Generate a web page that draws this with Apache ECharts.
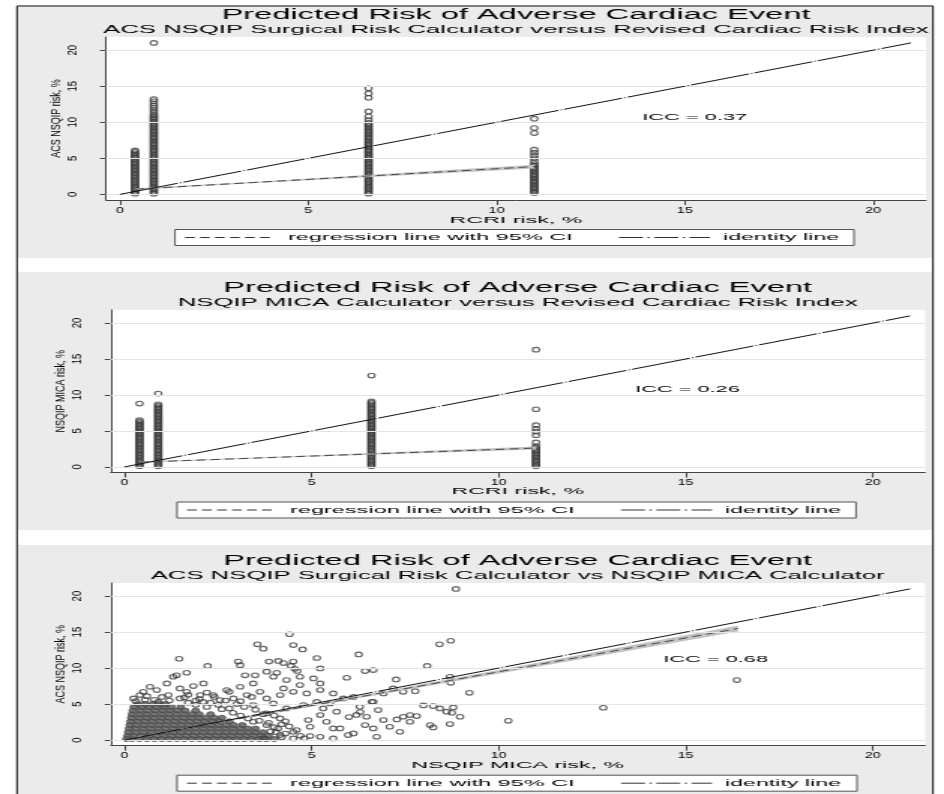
<!DOCTYPE html>
<html>
<head>
<meta charset="utf-8">
<script src="https://cdn.jsdelivr.net/npm/echarts@6/dist/echarts.min.js"></script>
<style>
html, body { margin: 0; padding: 0; background: #fff; overflow: hidden; }
/* the source figure is stretched sideways, so the chart is drawn narrow and widened */
#main { width: 629px; height: 794px; transform: scaleX(1.50079); transform-origin: 0 0; }
</style>
</head>
<body>
<div id="main"></div>
<script>
// ---- data ----
var titles = ['Predicted Risk of Adverse Cardiac Event', 'Predicted Risk of Adverse Cardiac Event', 'Predicted Risk of Adverse Cardiac Event'];
var subtitles = ['ACS NSQIP Surgical Risk Calculator versus Revised Cardiac Risk Index',
                 'NSQIP MICA Calculator versus Revised Cardiac Risk Index',
                 'ACS NSQIP Surgical Risk Calculator vs NSQIP MICA Calculator'];
var xNames = ['RCRI risk, %', 'RCRI risk, %', 'NSQIP MICA risk, %'];
var yNames = ['ACS NSQIP risk, %', 'NSQIP MICA risk, %', 'ACS NSQIP risk, %'];
var legendNames = ['regression line with 95% CI', 'identity line'];
var tickValues = [0, 5, 10, 15, 20];
var iccLabels = ['ICC = 0.37', 'ICC = 0.26', 'ICC = 0.68'];
var iccAt = [[13.87, 10.73], [13.65, 10.8], [14.4, 11.2]];

// RCRI classes (x) and the predicted risks seen in each column
var rcriClass = [0.4, 0.9, 6.6, 11];
var acsAt04 = [0.1,0.3,0.5,0.7,0.9,1.1,1.3,1.5,1.7,1.9,2.1,2.3,2.5,2.7,2.9,3.1,3.3,3.5,3.7,3.9,4.1,4.3,4.5,4.7,4.9,5.1,5.3,5.5,5.7,5.9,6.1];
var acsAt09 = [0.1,0.3,0.5,0.7,0.9,1.1,1.3,1.5,1.7,1.9,2.1,2.3,2.5,2.7,2.9,3.1,3.3,3.5,3.7,3.9,4.1,4.3,4.5,4.7,4.9,5.1,5.3,5.5,5.7,5.9,
               6.1,6.3,6.5,6.7,6.9,7.1,7.3,7.5,7.7,7.9,8.1,8.3,8.5,8.7,8.9,9.1,9.3,9.5,9.7,9.9,10.1,10.3,10.5,10.7,10.9,11.1,
               11.4,11.7,12.0,12.3,12.6,12.9,13.2,21.0];
var acsAt66 = [0.1,0.3,0.5,0.7,0.9,1.1,1.3,1.5,1.7,1.9,2.1,2.3,2.5,2.7,2.9,3.1,3.3,3.5,3.7,3.9,4.1,4.3,4.5,4.7,4.9,5.1,5.3,5.5,5.7,5.9,
               6.1,6.3,6.5,6.7,6.9,7.1,7.3,7.5,7.7,7.9,8.1,8.3,8.5,8.7,8.9,9.1,9.3,9.5,9.7,9.9,10.3,10.8,11.5,13.4,14.0,14.7];
var acsAt11 = [0.2,0.4,0.6,0.8,1.0,1.2,1.4,1.6,1.8,2.0,2.2,2.4,2.6,2.8,3.0,3.2,3.4,3.6,3.8,4.0,4.2,4.6,5.0,5.4,5.8,6.2,8.5,9.2,10.5];
var micaAt04 = [0.1,0.3,0.5,0.7,0.9,1.1,1.3,1.5,1.7,1.9,2.1,2.3,2.5,2.7,2.9,3.1,3.3,3.5,3.7,3.9,4.1,4.3,4.5,4.7,4.9,5.1,5.3,5.5,5.7,5.9,6.1,6.3,6.5,8.8];
var micaAt09 = [0.1,0.3,0.5,0.7,0.9,1.1,1.3,1.5,1.7,1.9,2.1,2.3,2.5,2.7,2.9,3.1,3.3,3.5,3.7,3.9,4.1,4.3,4.5,4.7,4.9,5.1,5.3,5.5,5.7,5.9,
                6.1,6.3,6.5,6.7,6.9,7.1,7.3,7.5,7.7,7.9,8.1,8.3,8.5,8.7,10.2];
var micaAt66 = [0.1,0.3,0.5,0.7,0.9,1.1,1.3,1.5,1.7,1.9,2.1,2.3,2.5,2.7,2.9,3.1,3.3,3.5,3.7,3.9,4.1,4.3,4.5,4.7,4.9,5.1,5.3,5.5,5.7,5.9,
                6.1,6.3,6.5,6.7,6.9,7.1,7.3,7.5,7.7,7.9,8.1,8.3,8.5,8.7,8.9,9.1,12.7];
var micaAt11 = [0.1,0.3,0.5,0.7,0.9,1.1,1.3,1.5,1.7,1.9,2.1,2.3,2.5,2.7,2.9,3.4,4.4,4.9,5.3,5.8,8.0,16.3];

// panel 3: NSQIP MICA (x) vs ACS NSQIP (y), the solid core near the origin, row by row
var coreRowY = [0.15, 0.6, 1.1, 1.6, 2.1, 2.6, 3.1, 3.6, 4.1, 4.6, 5.0];
var coreRowX = [
  [0.05,0.2,0.4,0.6,0.8,1.0,1.2,1.4,1.6,1.8,2.0,2.2,2.4,2.6,2.8,3.0,3.2,3.4,3.6,3.8,4.0],
  [0.08,0.25,0.45,0.65,0.85,1.05,1.25,1.45,1.65,1.85,2.05,2.25,2.45,2.65,2.85,3.05,3.25,3.45,3.65,3.85],
  [0.1,0.3,0.5,0.7,0.9,1.1,1.3,1.5,1.7,1.9,2.1,2.3,2.5,2.7,2.9,3.1,3.3,3.5,3.7],
  [0.12,0.3,0.5,0.7,0.9,1.1,1.3,1.5,1.7,1.9,2.1,2.3,2.5,2.7,2.9,3.1,3.3,3.5],
  [0.14,0.32,0.52,0.72,0.92,1.12,1.32,1.52,1.72,1.92,2.12,2.32,2.52,2.72,2.92,3.15],
  [0.16,0.35,0.55,0.75,0.95,1.15,1.35,1.55,1.75,1.95,2.15,2.35,2.55,2.8],
  [0.18,0.38,0.58,0.78,0.98,1.18,1.38,1.58,1.78,1.98,2.18,2.4,2.6],
  [0.2,0.4,0.6,0.8,1.0,1.2,1.4,1.6,1.8,2.0,2.3],
  [0.22,0.42,0.62,0.82,1.02,1.22,1.42,1.62,1.9],
  [0.25,0.45,0.65,0.85,1.05,1.25,1.5],
  [0.35,0.55,0.75,0.95,1.1]
];
var micaAcsPoints = [
  [8.86,21.0],[4.41,14.7],[3.55,13.3],[3.71,12.7],[4.51,13.2],[4.76,12.6],[8.42,13.3],[8.72,13.8],
  [1.46,11.3],[6.26,11.9],[5.14,11.4],[3.86,10.9],[4.11,11.0],[4.25,10.7],[4.51,10.9],[4.45,10.3],[4.55,9.9],[4.62,9.6],
  [2.22,10.3],[3.04,10.9],[3.09,10.4],[5.23,9.95],[6.43,9.58],[6.65,9.72],[8.09,10.3],
  [1.39,9.0],[1.66,9.35],[3.22,9.0],[3.49,9.0],[3.80,9.5],[4.07,9.35],
  [5.94,8.66],[7.26,8.43],[8.70,8.8],[8.72,7.96],[9.22,6.57],
  [0.86,6.94],[1.17,6.25],[1.48,7.18],[1.84,7.5],[2.11,7.87],[7.77,6.8],
  [16.37,8.33],[12.8,4.49],[10.26,2.68],
  [3.98,8.8],[4.33,8.33],[4.69,8.8],[5.05,8.56],[5.23,7.87],[4.69,7.64],[4.25,7.18],[4.51,6.7],[4.87,6.48],[5.23,6.94],
  [5.58,6.48],[5.85,5.79],[6.12,6.0],[5.49,5.09],[5.14,5.3],[4.78,4.86],[5.31,4.4],[5.67,3.94],[5.23,3.47],[4.91,2.78],
  [5.4,2.55],[4.96,1.85],[4.51,1.16],[4.16,0.69],[3.71,0.23],[4.51,0.23],[5.58,1.62],[5.23,0.46],
  [2.37,6.25],[2.73,6.94],[3.09,7.41],[3.44,7.87],[2.91,5.79],[2.55,5.56],[3.27,6.25],[3.62,6.71],[3.80,5.79],[4.16,6.25],
  [3.44,4.86],[3.98,5.09],[4.33,4.4],[3.8,3.71],[4.16,3.01],[3.44,2.55],[3.8,2.08],[4.1,1.6],[3.9,1.2],
  [1.13,7.87],[1.30,8.8],[0.5,6.71],[0.68,7.41],[0.24,5.79],[0.41,6.25],[1.66,6.71],[2.02,6.25],[1.48,5.79],[1.9,5.5],[2.3,5.2],[0.8,5.6],
  [6.29,4.63],[6.65,5.32],[6.92,6.48],[7.18,7.18],[7.45,6.71],[6.47,3.24],[6.92,2.78],[7.09,1.85],[6.65,1.62],[7.63,2.55],
  [6.12,0.93],[5.58,0.23],[7.36,1.16],
  [7.99,4.81],[8.25,4.72],[8.43,4.4],[8.79,4.54],[8.61,3.94],[8.75,3.8],[8.97,3.24],[7.28,2.87],[7.45,3.24],[7.63,3.47],
  [7.81,3.33],[8.17,2.08],[8.25,1.76],[8.70,2.22],[6.74,0.46],[5.98,0.69],[6.43,2.08],[6.78,4.17],[6.3,3.9],[6.2,3.5],
  [6.0,3.2],[5.76,1.62],[4.96,0.56],[6.61,5.32],
  [0.3,5.4],[0.55,5.6],[0.9,5.3],[1.2,5.5],[1.6,5.9],[2.0,5.7],[2.4,6.0],[2.7,5.5],[3.0,5.0],[3.2,4.6],[3.5,4.2],[3.7,3.6],
  [4.0,3.4],[4.3,2.6],[4.2,2.2],[4.4,1.9],[4.6,1.4],[4.3,0.9],[4.7,0.6],[4.8,0.25],[2.6,4.3],[2.9,3.8],[3.1,3.4],[3.3,3.0],
  [3.6,2.7],[3.85,2.4],[4.0,1.8],[4.05,1.1],[4.2,0.4],[1.0,6.0],[1.7,6.3],[0.6,6.1],[2.2,6.6],[2.8,6.7],[3.4,6.0],[3.1,5.4],
  [1.9,4.9],[2.2,4.6],[2.5,4.9],[2.8,4.4],[1.7,5.2],[2.1,5.3]
];

// fitted lines and 95% CI, one set per panel
var fitX = [[0.4, 3.5, 11], [0.4, 3.5, 11], [0.1, 2, 16.4]];
var fitY = [[0.72, 1.635, 3.85], [0.65, 1.226, 2.62], [0.19, 1.975, 15.5]];
var ciLow = [[0.6, 1.55, 3.6], [0.56, 1.15, 2.42], [0.12, 1.92, 15.1]];
var ciHigh = [[0.84, 1.72, 4.1], [0.74, 1.30, 2.82], [0.26, 2.03, 15.9]];
var identityEnds = [0, 21];

// ---- layout ----
var S = 944 / 629;
function px(v) { return v / S; }
var FONT = '"Liberation Sans", Arial, Helvetica, sans-serif';

var panels = [
  { gray: [7, 258],   left: 106,   right: 926, top: 37,  height: 163,   cx: 516,   titleY: 15,    subY: 30,  nameY: 220,   legL: 175, legR: 854 },
  { gray: [272, 530], left: 110.7, right: 925, top: 310, height: 162.5, cx: 517.7, titleY: 288,   subY: 303, nameY: 491,   legL: 177, legR: 856 },
  { gray: [545, 794], left: 110.7, right: 925, top: 583, height: 162.7, cx: 517.7, titleY: 561.3, subY: 576, nameY: 765.7, legL: 177, legR: 857 }
];

var chartDom = document.getElementById('main');
var myChart = echarts.init(chartDom);

function pairs(xs, ys) {
  return xs.map(function (x, i) { return [x, ys[i]]; });
}

var rcriPoints = [[], []];
[[acsAt04, acsAt09, acsAt66, acsAt11], [micaAt04, micaAt09, micaAt66, micaAt11]].forEach(function (cols, p) {
  cols.forEach(function (col, i) {
    col.forEach(function (y) { rcriPoints[p].push([rcriClass[i], y]); });
  });
});
var corePoints = [];
coreRowY.forEach(function (y, r) {
  coreRowX[r].forEach(function (x) { corePoints.push([x, y]); });
});
var scatterSets = [rcriPoints[0], rcriPoints[1], micaAcsPoints];

function bandRenderer(i) {
  return function (params, api) {
    var pts = [];
    fitX[i].forEach(function (x, k) { pts.push(api.coord([x, ciLow[i][k]])); });
    for (var k = fitX[i].length - 1; k >= 0; k--) pts.push(api.coord([fitX[i][k], ciHigh[i][k]]));
    return { type: 'polygon', shape: { points: pts }, style: { fill: '#c2c2c2' } };
  };
}

var grids = [], xAxes = [], yAxes = [], series = [];
panels.forEach(function (p, i) {
  grids.push({
    left: px(p.left), width: px(p.right - p.left), top: p.top, height: p.height,
    show: true, backgroundColor: '#fff', borderWidth: 0
  });
  xAxes.push({
    gridIndex: i, type: 'value', min: -0.37, max: 21.4,
    axisLine: { onZero: false, lineStyle: { color: '#444', width: 1 } },
    axisTick: { customValues: tickValues, length: 5, lineStyle: { color: '#444' } },
    axisLabel: { customValues: tickValues, margin: 5, fontSize: 9.5, color: '#000', fontFamily: FONT },
    splitLine: { show: false }
  });
  yAxes.push({
    gridIndex: i, type: 'value', min: -0.78, max: 21.82,
    axisLine: { onZero: false, lineStyle: { color: '#444', width: 1 } },
    axisTick: { customValues: tickValues, length: 4, lineStyle: { color: '#444' } },
    axisLabel: { show: false },
    splitLine: { show: false }
  });

  // horizontal grid lines
  series.push({
    type: 'line', xAxisIndex: i, yAxisIndex: i, data: [], z: 1, silent: true,
    markLine: {
      silent: true, symbol: ['none', 'none'], label: { show: false },
      lineStyle: { color: '#e4e4e4', width: 1, type: 'solid' },
      data: tickValues.map(function (v) { return { yAxis: v }; })
    }
  });
  if (i === 2) {
    series.push({
      type: 'scatter', xAxisIndex: i, yAxisIndex: i, data: corePoints, z: 2, silent: true,
      symbol: 'circle', symbolSize: 5,
      itemStyle: { color: '#585858', borderColor: '#4a4a4a', borderWidth: 1 }
    });
  }
  series.push({
    type: 'scatter', xAxisIndex: i, yAxisIndex: i, data: scatterSets[i], z: 2, silent: true,
    symbol: 'circle', symbolSize: 4.6,
    itemStyle: { color: 'rgba(0,0,0,0)', borderColor: '#3d3d3d', borderWidth: 1.1 }
  });
  // 95% CI band
  series.push({
    type: 'custom', coordinateSystem: 'cartesian2d', xAxisIndex: i, yAxisIndex: i, z: 3, silent: true,
    data: [[fitX[i][0], fitY[i][0]]], renderItem: bandRenderer(i)
  });
  series.push({
    type: 'line', xAxisIndex: i, yAxisIndex: i, z: 4, silent: true,
    data: pairs(fitX[i], fitY[i]), symbol: 'none',
    lineStyle: { color: '#4a4a4a', width: 1, type: [6, 3.5] }
  });
  series.push({
    type: 'line', xAxisIndex: i, yAxisIndex: i, z: 5, silent: true,
    data: pairs(identityEnds, identityEnds), symbol: 'none',
    lineStyle: { color: '#111', width: 1, type: [40, 1.5, 1, 1.5] }
  });
});

var option = {
  animation: false,
  textStyle: { fontFamily: FONT },
  grid: grids,
  xAxis: xAxes,
  yAxis: yAxes,
  series: series
};
myChart.setOption(option);

// ---- frame, titles, legends (text is widened like the source) ----
function wideText(text, cx, cy, size, pxPerEm, align) {
  var a = align || 'center';
  return {
    type: 'text', x: px(cx), y: cy, scaleX: pxPerEm / (size * S), z: 100, silent: true,
    style: { text: text, font: size + 'px ' + FONT, fill: '#000',
             textAlign: a, align: a, textVerticalAlign: 'middle', verticalAlign: 'middle' }
  };
}
function uprightText(text, cx, cy, size) {
  return {
    type: 'text', x: px(cx), y: cy, rotation: Math.PI / 2, z: 100, silent: true,
    style: { text: text, font: size + 'px ' + FONT, fill: '#000',
             textAlign: 'center', align: 'center', textVerticalAlign: 'middle', verticalAlign: 'middle' }
  };
}
var g = [];
panels.forEach(function (p) {
  g.push({ type: 'rect', z: -5, silent: true,
           shape: { x: px(18), y: p.gray[0], width: px(932 - 18), height: p.gray[1] - p.gray[0] },
           style: { fill: '#ebebeb' } });
});
g.push({ type: 'line', z: 50, silent: true, shape: { x1: px(17), y1: 6, x2: px(17), y2: 794 }, style: { stroke: '#000', lineWidth: 1 } });
g.push({ type: 'line', z: 50, silent: true, shape: { x1: px(933), y1: 6, x2: px(933), y2: 794 }, style: { stroke: '#000', lineWidth: 1 } });
g.push({ type: 'line', z: 50, silent: true, shape: { x1: px(17), y1: 6, x2: px(933), y2: 6 }, style: { stroke: '#000', lineWidth: 1.2 } });

panels.forEach(function (p, i) {
  g.push(wideText(titles[i], p.cx, p.titleY, 14, 32.6));
  g.push(wideText(subtitles[i], p.cx, p.subY, 10.5, 25.7));
  g.push(wideText(xNames[i], p.cx, p.nameY, 9.5, 23.2));

  // y tick labels and title, turned to read upward
  tickValues.forEach(function (v) {
    var at = myChart.convertToPixel({ gridIndex: i }, [0, v]);
    g.push(uprightText(String(v), p.left - 33, at[1], 9.5));
  });
  g.push(uprightText(yNames[i], p.left - 50, p.top + p.height / 2, 9));

  var icc = myChart.convertToPixel({ gridIndex: i }, iccAt[i]);
  g.push(wideText(iccLabels[i], icc[0] * S, icc[1], 9.5, 21.8, 'left'));

  var axisY = p.top + p.height;
  var t = axisY + 29.5, mid = t + 8;
  g.push({ type: 'rect', z: 60, silent: true,
           shape: { x: px(p.legL), y: t, width: px(p.legR - p.legL), height: 16 },
           style: { fill: '#fff', stroke: '#555', lineWidth: 1 } });
  g.push({ type: 'line', z: 61, silent: true,
           shape: { x1: px(p.legL + 10), y1: mid, x2: px(p.legL + 98), y2: mid },
           style: { stroke: '#333', lineWidth: 1, lineDash: [6.5, 3.5] } });
  g.push(wideText(legendNames[0], p.legL + 113, mid, 9.5, 23.5, 'left'));
  g.push({ type: 'line', z: 61, silent: true,
           shape: { x1: px(p.legL + 444), y1: mid, x2: px(p.legL + 535), y2: mid },
           style: { stroke: '#333', lineWidth: 1, lineDash: [16, 3, 1.5, 3] } });
  g.push(wideText(legendNames[1], p.legL + 548, mid, 9.5, 23.2, 'left'));
});

myChart.setOption({ graphic: { elements: g } });
</script>
</body>
</html>
